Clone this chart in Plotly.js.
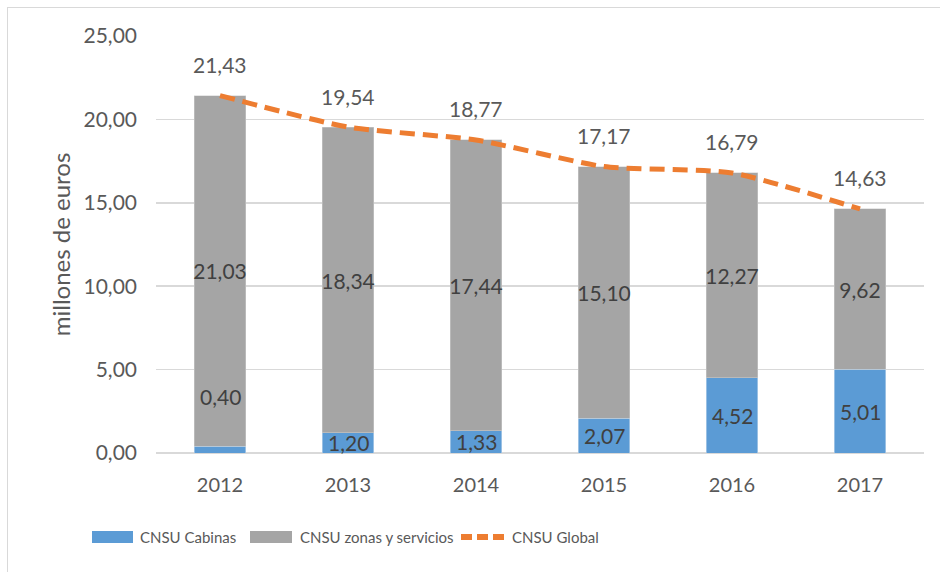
<!DOCTYPE html>
<html>
<head>
<meta charset="utf-8">
<script src="https://cdn.plot.ly/plotly-3.0.1.min.js"></script>
<style>
  html, body { margin: 0; padding: 0; background: #ffffff; }
  #chart { position: absolute; left: 0; top: 0; width: 940px; height: 572px; }
  #frame { position: absolute; left: 7px; top: 7px; width: 960px; height: 600px;
           border-left: 1px solid #d9d9d9; border-top: 1px solid #d9d9d9; pointer-events: none; }
</style>
</head>
<body>
<div id="chart"></div>
<div id="frame"></div>
<script>
const years = ['2012', '2013', '2014', '2015', '2016', '2017'];
const cabinas = [0.40, 1.20, 1.33, 2.07, 4.52, 5.01];
const zonas = [21.03, 18.34, 17.44, 15.10, 12.27, 9.62];
const globalTotal = [21.43, 19.54, 18.77, 17.17, 16.79, 14.63];
const seriesNames = ['CNSU Cabinas', 'CNSU zonas y servicios', 'CNSU Global'];
const seriesColors = ['#5B9BD5', '#A5A5A5', '#ED7D31'];

const FONT = 'Lato, "Open Sans", sans-serif';
const fmt = v => v.toFixed(2).replace('.', ',');

const traces = [
  {
    type: 'bar', name: seriesNames[0], x: years, y: cabinas,
    marker: { color: seriesColors[0], line: { color: '#d9e6f2', width: 0.5 } },
    textposition: 'none', hoverinfo: 'y'
  },
  {
    type: 'bar', name: seriesNames[1], x: years, y: zonas,
    marker: { color: seriesColors[1], line: { color: '#d0d0d0', width: 0.5 } },
    text: zonas.map(fmt), textposition: 'inside', insidetextanchor: 'middle',
    textangle: 0, constraintext: 'none',
    textfont: { family: FONT, size: 21, color: '#404040' }
  },
  {
    type: 'scatter', mode: 'lines', name: seriesNames[2], x: years, y: globalTotal,
    line: { color: seriesColors[2], width: 5, dash: '15px,8px', shape: 'spline', smoothing: 0.6 }
  }
];

// Plot area geometry (pixels) used to place the custom legend in paper coords
const W = 940, H = 572, ML = 156, MR = 16, MT = 36, MB = 119;
const PW = W - ML - MR, PH = H - MT - MB;
const px = x => (x - ML) / PW;
const py = y => (H - MB - y) / PH;

// annotations on a category axis are placed by category index
const annotations = [];
cabinas.forEach((v, i) => {
  annotations.push({
    x: i, y: v / 2, xref: 'x', yref: 'y', text: fmt(v), showarrow: false,
    yshift: v < 1 ? 53 : 0,
    font: { family: FONT, size: 21, color: '#404040' }
  });
});
globalTotal.forEach((v, i) => {
  annotations.push({
    x: i, y: v, xref: 'x', yref: 'y', text: fmt(v), showarrow: false,
    yshift: 31,
    font: { family: FONT, size: 21, color: '#595959' }
  });
});

// custom legend (wide swatches as in the reference)
const legendItems = [
  { sx0: 92, sx1: 133, tx: 138 },
  { sx0: 250, sx1: 292, tx: 298 },
  { sx0: 461, sx1: 504, tx: 510 }
];
const legendY = 537;
const shapes = [];
legendItems.forEach((it, i) => {
  if (i < 2) {
    shapes.push({
      type: 'rect', xref: 'paper', yref: 'paper',
      x0: px(it.sx0), x1: px(it.sx1), y0: py(legendY + 6), y1: py(legendY - 6),
      fillcolor: seriesColors[i], line: { width: 0 }
    });
  } else {
    shapes.push({
      type: 'line', xref: 'paper', yref: 'paper',
      x0: px(it.sx0), x1: px(it.sx1), y0: py(legendY), y1: py(legendY),
      line: { color: seriesColors[i], width: 6, dash: '11px,5px' }
    });
  }
  annotations.push({
    xref: 'paper', yref: 'paper', x: px(it.tx), y: py(legendY),
    xanchor: 'left', yanchor: 'middle', text: seriesNames[i], showarrow: false,
    font: { family: FONT, size: 15, color: '#595959' }
  });
});

const layout = {
  width: W, height: H,
  margin: { l: ML, r: MR, t: MT, b: MB },
  paper_bgcolor: '#ffffff', plot_bgcolor: '#ffffff',
  separators: ',.',
  barmode: 'stack', bargap: 0.6,
  font: { family: FONT, color: '#595959' },
  showlegend: false,
  xaxis: {
    type: 'category', showgrid: false, showline: false, zeroline: false,
    ticks: '', tickfont: { family: FONT, size: 20, color: '#595959' },
    ticklabelstandoff: 18, fixedrange: true
  },
  yaxis: {
    range: [0, 25], dtick: 5, tickformat: '.2f',
    showgrid: true, gridcolor: '#d9d9d9', gridwidth: 1.5,
    zeroline: true, zerolinecolor: '#d9d9d9', zerolinewidth: 1.5,
    showline: false, ticks: '',
    tickfont: { family: FONT, size: 21, color: '#595959' },
    ticklabelstandoff: 18,
    title: { text: 'millones de euros', font: { family: FONT, size: 24, color: '#595959' }, standoff: 6 },
    fixedrange: true
  },
  shapes: shapes,
  annotations: annotations
};

Plotly.newPlot('chart', traces, layout, { displayModeBar: false, staticPlot: true });
</script>
</body>
</html>
